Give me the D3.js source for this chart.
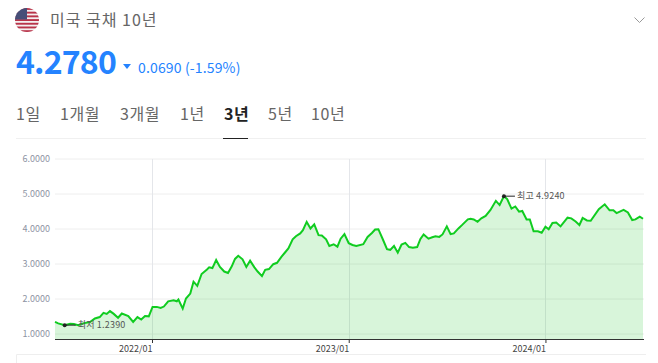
<!DOCTYPE html>
<html>
<head>
<meta charset="utf-8">
<script src="https://cdnjs.cloudflare.com/ajax/libs/d3/7.8.5/d3.min.js"></script>
<style>
  html, body { margin: 0; padding: 0; background: #fff; overflow: hidden; }
  text { font-family: "Noto Sans CJK KR", "Noto Sans", sans-serif; }
</style>
</head>
<body>
<div class="canvas"></div>
<script>
// values
const dates = [
  '2021-07-05','2021-07-11','2021-07-23','2021-08-02','2021-08-09','2021-08-17','2021-08-26','2021-09-08','2021-09-17','2021-09-26',
  '2021-10-03','2021-10-09','2021-10-15','2021-10-22','2021-10-30','2021-11-06','2021-11-18','2021-11-27','2021-12-05','2021-12-12',
  '2021-12-19','2021-12-26','2022-01-02','2022-01-10','2022-01-17','2022-01-23','2022-01-31','2022-02-10','2022-02-16','2022-02-19',
  '2022-02-27','2022-03-05','2022-03-13','2022-03-19','2022-03-26','2022-04-03','2022-04-13','2022-04-17','2022-04-23','2022-04-30',
  '2022-05-07','2022-05-15','2022-05-22','2022-05-29','2022-06-04','2022-06-10','2022-06-18','2022-06-25','2022-07-02','2022-07-10',
  '2022-07-16','2022-07-24','2022-07-30','2022-08-06','2022-08-14','2022-08-21','2022-08-29','2022-09-04','2022-09-11','2022-09-19',
  '2022-09-25','2022-10-03','2022-10-08','2022-10-15','2022-10-22','2022-10-29','2022-11-06','2022-11-12','2022-11-20','2022-11-26',
  '2022-12-04','2022-12-11','2022-12-17','2022-12-24','2023-01-01','2023-01-08','2023-01-15','2023-01-28','2023-02-05','2023-02-13',
  '2023-02-19','2023-02-25','2023-03-05','2023-03-13','2023-03-19','2023-03-26','2023-04-02','2023-04-09','2023-04-16','2023-04-23',
  '2023-04-30','2023-05-08','2023-05-14','2023-05-20','2023-05-29','2023-06-05','2023-06-11','2023-06-18','2023-06-24','2023-07-02',
  '2023-07-09','2023-07-15','2023-07-24','2023-07-31','2023-08-10','2023-08-15','2023-08-21','2023-08-28','2023-09-04','2023-09-12',
  '2023-09-21','2023-10-01','2023-10-08','2023-10-16','2023-10-22','2023-10-30','2023-11-06','2023-11-13','2023-11-19','2023-11-27',
  '2023-12-03','2023-12-10','2023-12-18','2023-12-25','2024-01-01','2024-01-07','2024-01-14','2024-01-21','2024-01-29','2024-02-11',
  '2024-02-18','2024-02-26','2024-03-04','2024-03-10','2024-03-18','2024-03-25','2024-04-09','2024-04-20','2024-04-29','2024-05-06',
  '2024-05-12','2024-05-25','2024-06-02','2024-06-10','2024-06-16','2024-06-24','2024-06-30'
];
const yields = [
  1.33,1.29,1.239,1.28,1.27,1.24,1.29,1.33,1.43,1.47,
  1.59,1.56,1.64,1.56,1.45,1.57,1.50,1.33,1.47,1.40,
  1.50,1.49,1.76,1.76,1.73,1.77,1.92,1.95,1.92,1.97,
  1.71,2.00,2.14,2.48,2.36,2.70,2.83,2.89,2.87,3.10,
  2.90,2.77,2.73,2.92,3.13,3.22,3.12,2.90,3.08,2.89,
  2.77,2.64,2.82,2.84,2.98,3.02,3.19,3.30,3.43,3.69,
  3.78,3.86,3.95,4.19,4.00,4.12,3.81,3.80,3.69,3.50,
  3.55,3.48,3.71,3.84,3.58,3.53,3.50,3.55,3.76,3.87,
  3.97,3.98,3.70,3.41,3.39,3.50,3.31,3.54,3.59,3.47,
  3.45,3.47,3.70,3.83,3.71,3.75,3.78,3.76,3.83,4.06,
  3.84,3.86,4.01,4.11,4.26,4.28,4.26,4.19,4.29,4.36,
  4.53,4.79,4.67,4.924,4.84,4.57,4.63,4.48,4.50,4.26,
  4.26,3.92,3.92,3.88,4.05,3.98,4.16,4.17,4.06,4.31,
  4.29,4.20,4.10,4.30,4.23,4.22,4.55,4.69,4.52,4.52,
  4.44,4.53,4.46,4.24,4.26,4.34,4.278
];
const yTicks = [1, 2, 3, 4, 5, 6];
const xTicks = ['2022-01-01', '2023-01-01', '2024-01-01'];
const tabs = ['1일', '1개월', '3개월', '1년', '3년', '5년', '10년'];
const tabX = [16, 60, 120, 180, 224, 268, 311];
const activeTab = '3년';

const parseDate = d3.timeParse('%Y-%m-%d');
const data = dates.map((d, i) => ({date: parseDate(d), value: yields[i]}));

const svg = d3.select('.canvas')
  .append('svg')
  .attr('width', 658)
  .attr('height', 363)
  .style('display', 'block');

// header
const blue = '#2483ff';
const flag = svg.append('g');
svg.append('clipPath').attr('id', 'flagClip')
  .append('circle').attr('cx', 27).attr('cy', 20).attr('r', 12);
flag.attr('clip-path', 'url(#flagClip)');
flag.append('rect').attr('x', 15).attr('y', 8).attr('width', 24).attr('height', 24).attr('fill', '#f4f0f0');
d3.range(0, 7).forEach(i => {
  flag.append('rect').attr('x', 15).attr('y', 8 + i * 3.7).attr('width', 24).attr('height', 1.9).attr('fill', '#b8344a');
});
flag.append('rect').attr('x', 15).attr('y', 8).attr('width', 12).attr('height', 11.5).attr('fill', '#474f78');

svg.append('text').attr('x', 50).attr('y', 26).attr('font-size', 16).attr('letter-spacing', 1).attr('fill', '#666').text('미국 국채 10년');
svg.append('path').attr('d', 'M634.5,17.5 L639.5,22.5 L644.5,17.5').attr('fill', 'none').attr('stroke', '#999');

svg.append('text').attr('x', 16).attr('y', 74).attr('font-size', 32).attr('letter-spacing', -0.8).attr('font-weight', 700).attr('fill', blue).text('4.2780');
svg.append('path').attr('d', 'M123,64 L131,64 L127,69 Z').attr('fill', blue);
svg.append('text').attr('x', 138).attr('y', 73).attr('font-size', 14).attr('letter-spacing', 0.15).attr('fill', blue).text('0.0690 (-1.59%)');

// tabs
svg.selectAll('.tab')
  .data(tabs)
  .enter()
  .append('text')
  .attr('class', 'tab')
  .attr('x', (d, i) => tabX[i])
  .attr('y', 120)
  .attr('font-size', 16)
  .attr('letter-spacing', 0.6)
  .attr('font-weight', d => d === activeTab ? 700 : 400)
  .attr('fill', d => d === activeTab ? '#222' : '#666')
  .text(d => d);
svg.append('rect').attr('x', 16).attr('y', 138).attr('width', 630).attr('height', 1).attr('fill', '#f0f0f0');
svg.append('rect').attr('x', 223).attr('y', 138).attr('width', 25).attr('height', 1).attr('fill', '#222');

// chart
const margin = {left: 55, right: 643, bottom: 339};
const x = d3.scaleTime()
  .domain([parseDate('2021-07-05'), parseDate('2024-06-30')])
  .range([margin.left, margin.right]);
const y = d3.scaleLinear()
  .domain([1, 6])
  .range([333.5, 158.5]);

const yAxis = d3.axisLeft(y)
  .tickValues(yTicks)
  .tickSize(-(margin.right - margin.left + 1))
  .tickPadding(5)
  .tickFormat(d3.format('.4f'));
const xAxis = d3.axisBottom(x)
  .tickValues(xTicks.map(parseDate))
  .tickSize(4)
  .tickFormat(d3.timeFormat('%Y/%m'));

const yGroup = svg.append('g')
  .attr('transform', `translate(${margin.left}, 0)`)
  .call(yAxis);
yGroup.select('.domain').remove();
yGroup.selectAll('line').attr('stroke', '#eeeeee');
yGroup.selectAll('text').attr('font-size', 9).attr('fill', '#8d94a3').style('font-family', '"Noto Sans CJK KR"');

// vertical grid
svg.selectAll('.vgrid')
  .data(xTicks.map(parseDate))
  .enter()
  .append('line')
  .attr('class', 'vgrid')
  .attr('x1', d => Math.round(x(d)) + 0.5)
  .attr('x2', d => Math.round(x(d)) + 0.5)
  .attr('y1', 159)
  .attr('y2', margin.bottom)
  .attr('stroke', '#e4e6ea');

const area = d3.area()
  .x(d => x(d.date))
  .y0(margin.bottom)
  .y1(d => y(d.value));
const line = d3.line()
  .x(d => x(d.date))
  .y(d => y(d.value));

svg.append('path').datum(data).attr('d', area).attr('fill', 'rgba(40, 200, 50, 0.18)');
svg.append('path').datum(data).attr('d', line).attr('fill', 'none').attr('stroke', '#10cc20').attr('stroke-width', 2);

const xGroup = svg.append('g')
  .attr('transform', `translate(0, ${margin.bottom})`)
  .call(xAxis);
xGroup.select('.domain').attr('stroke', '#333').attr('d', `M${margin.left},0.5H${margin.right + 1}`);
xGroup.selectAll('line').attr('stroke', '#333');
xGroup.selectAll('text')
  .attr('font-size', 9)
  .attr('fill', '#444')
  .attr('text-anchor', 'end')
  .attr('dx', 0)
  .style('font-family', '"Noto Sans CJK KR"');

// low / high markers
const low = data[d3.minIndex(data, d => d.value)];
const high = data[d3.maxIndex(data, d => d.value)];
[[low, '최저'], [high, '최고']].forEach(([d, label]) => {
  const px = x(d.date), py = y(d.value);
  svg.append('line').attr('x1', px).attr('x2', px + 11).attr('y1', py).attr('y2', py).attr('stroke', '#222');
  svg.append('circle').attr('cx', px).attr('cy', py).attr('r', 2).attr('fill', '#222');
  svg.append('text').attr('x', px + 13).attr('y', py + 3).attr('font-size', 9).attr('letter-spacing', 0.2).attr('fill', '#555')
    .text(`${label} ${d.value.toFixed(4)}`);
});

// box under the chart
svg.append('path').attr('d', 'M16.5,363 V354.5 H646').attr('fill', 'none').attr('stroke', '#eeeeee');
</script>
</body>
</html>
